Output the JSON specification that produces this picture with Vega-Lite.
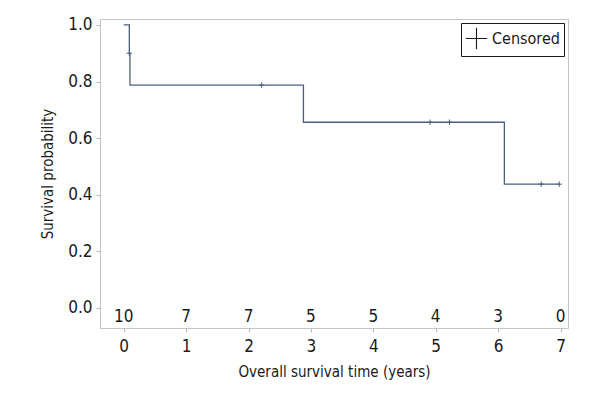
{
  "$schema": "https://vega.github.io/schema/vega-lite/v6.json",
  "description": "Kaplan-Meier overall survival",
  "width": 468,
  "height": 309,
  "autosize": "none",
  "padding": {"left": 100, "top": 19, "right": 32, "bottom": 72},
  "background": "white",
  "config": {
    "font": "'DejaVu Sans Condensed', 'Liberation Sans', sans-serif",
    "view": {"stroke": "#c4c4c4", "strokeWidth": 1},
    "axis": {
      "grid": false,
      "domain": false,
      "tickColor": "#b8b8b8",
      "tickSize": 4,
      "labelFontSize": 17,
      "labelColor": "#1a1a1a",
      "titleFontSize": 15,
      "titleFontWeight": "normal",
      "titleColor": "#1a1a1a"
    }
  },
  "datasets": {
    "curve": [
      {"time": 0, "surv": 1.0},
      {"time": 0.09, "surv": 0.9},
      {"time": 0.1, "surv": 0.7875},
      {"time": 2.88, "surv": 0.65625},
      {"time": 6.1, "surv": 0.4375},
      {"time": 6.98, "surv": 0.4375}
    ],
    "censored": [
      {"time": 0.09, "surv": 0.9, "kind": "Censored"},
      {"time": 2.21, "surv": 0.7875, "kind": "Censored"},
      {"time": 4.91, "surv": 0.65625, "kind": "Censored"},
      {"time": 5.22, "surv": 0.65625, "kind": "Censored"},
      {"time": 6.69, "surv": 0.4375, "kind": "Censored"},
      {"time": 6.98, "surv": 0.4375, "kind": "Censored"}
    ],
    "atrisk": [
      {"time": 0, "n": 10},
      {"time": 1, "n": 7},
      {"time": 2, "n": 7},
      {"time": 3, "n": 5},
      {"time": 4, "n": 5},
      {"time": 5, "n": 4},
      {"time": 6, "n": 3},
      {"time": 7, "n": 0}
    ]
  },
  "layer": [
    {
      "data": {"name": "curve"},
      "mark": {"type": "line", "interpolate": "step-after", "color": "#4d6079", "strokeWidth": 1.3},
      "encoding": {
        "x": {
          "field": "time",
          "type": "quantitative",
          "scale": {"domain": [-0.38, 7.12], "nice": false, "zero": false},
          "axis": {"values": [0, 1, 2, 3, 4, 5, 6, 7], "format": "d", "title": "Overall survival time (years)", "labelPadding": 6, "titlePadding": 10}
        },
        "y": {
          "field": "surv",
          "type": "quantitative",
          "scale": {"domain": [-0.0707, 1.021], "nice": false, "zero": false},
          "axis": {"values": [0, 0.2, 0.4, 0.6, 0.8, 1.0], "format": ".1f", "title": "Survival probability", "labelPadding": 4, "titlePadding": 12}
        }
      }
    },
    {
      "data": {"name": "censored"},
      "mark": {"type": "point", "filled": false, "strokeWidth": 1, "opacity": 1},
      "encoding": {
        "x": {"field": "time", "type": "quantitative"},
        "y": {"field": "surv", "type": "quantitative"},
        "shape": {
          "field": "kind",
          "type": "nominal",
          "scale": {"range": ["M0,-1V1M-1,0H1"]},
          "legend": {
            "title": null,
            "orient": "top-right",
            "offset": 4,
            "strokeColor": "#1a1a1a",
            "padding": 4,
            "labelFontSize": 16,
            "labelColor": "#1a1a1a",
            "symbolSize": 460,
            "symbolStrokeWidth": 1.1,
            "symbolStrokeColor": "#1a1a1a",
            "symbolFillColor": "transparent"
          }
        },
        "color": {"value": "#4d6079"},
        "size": {"value": 30}
      }
    },
    {
      "data": {"name": "atrisk"},
      "mark": {"type": "text", "fontSize": 17, "color": "#1a1a1a", "baseline": "middle", "align": "center"},
      "encoding": {
        "x": {"field": "time", "type": "quantitative"},
        "y": {"datum": -0.032, "type": "quantitative"},
        "text": {"field": "n", "type": "quantitative"}
      }
    }
  ]
}
